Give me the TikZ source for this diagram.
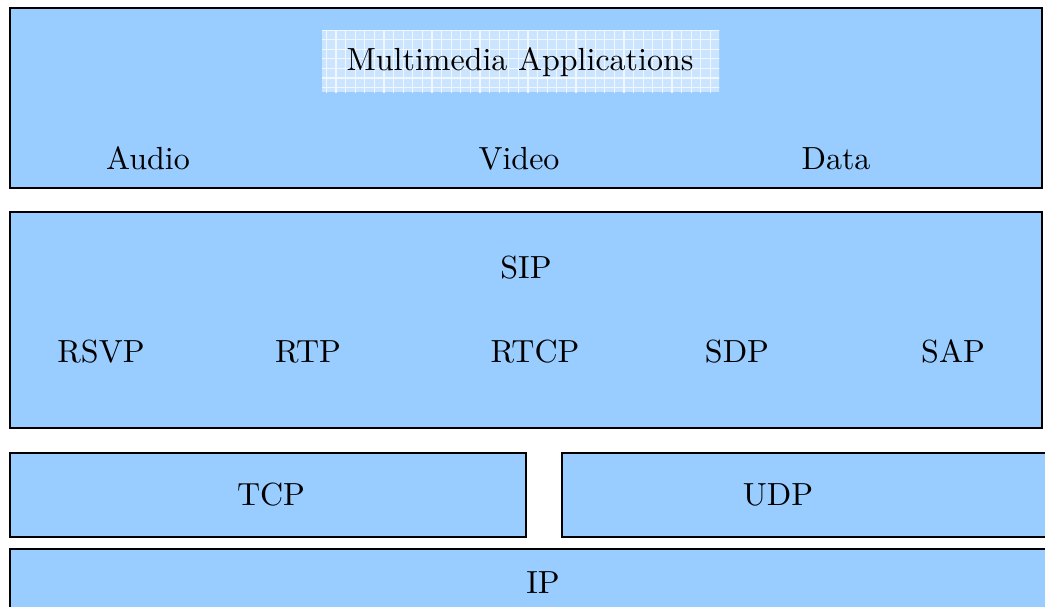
\documentclass[tikz,border=0pt]{standalone}
\usetikzlibrary{patterns}
\definecolor{stkFill}{HTML}{99CCFF}
\definecolor{stkPale}{HTML}{CCE5FF}
\tikzset{
  stk box/.style={draw=black, fill=stkFill, line width=0.7pt},
  stk title/.style={fill=stkPale, postaction={pattern=grid, pattern color=white!70!stkPale}},
  stk label/.style={anchor=base, inner sep=0pt, font=\normalsize},
}

\begin{document}
\begin{tikzpicture}[x=0.3125pt,y=-0.3125pt]
  \useasboundingbox (0,0) rectangle (1045,606);
  \clip (0,0) rectangle (1045,606);
  % application layer
  \draw[stk box] (10,8) rectangle (1042,188);
  \fill[stk title] (322,30) rectangle (719,92);
  \node[stk label] (apps) at (520,70) {Multimedia Applications};
  \node[stk label] (audio) at (148,169) {Audio};
  \node[stk label] (video) at (519,169) {Video};
  \node[stk label] (data) at (836,169) {Data};
  % session layer
  \draw[stk box] (10,212) rectangle (1042,428);
  \node[stk label] (sip) at (526,278) {SIP};
  \foreach \x/\name in {101/RSVP, 308/RTP, 535/RTCP, 737/SDP, 953/SAP}
    \node[stk label] (\name) at (\x,362) {\name};
  % transport layer
  \draw[stk box] (10,453) rectangle (526,537);
  \draw[stk box] (562,453) rectangle (1070,537);
  \node[stk label] (tcp) at (271,505) {TCP};
  \node[stk label] (udp) at (778,505) {UDP};
  % network layer
  \draw[stk box] (10,549) rectangle (1070,640);
  \node[stk label] (ip) at (543,593) {IP};
\end{tikzpicture}
\end{document}
